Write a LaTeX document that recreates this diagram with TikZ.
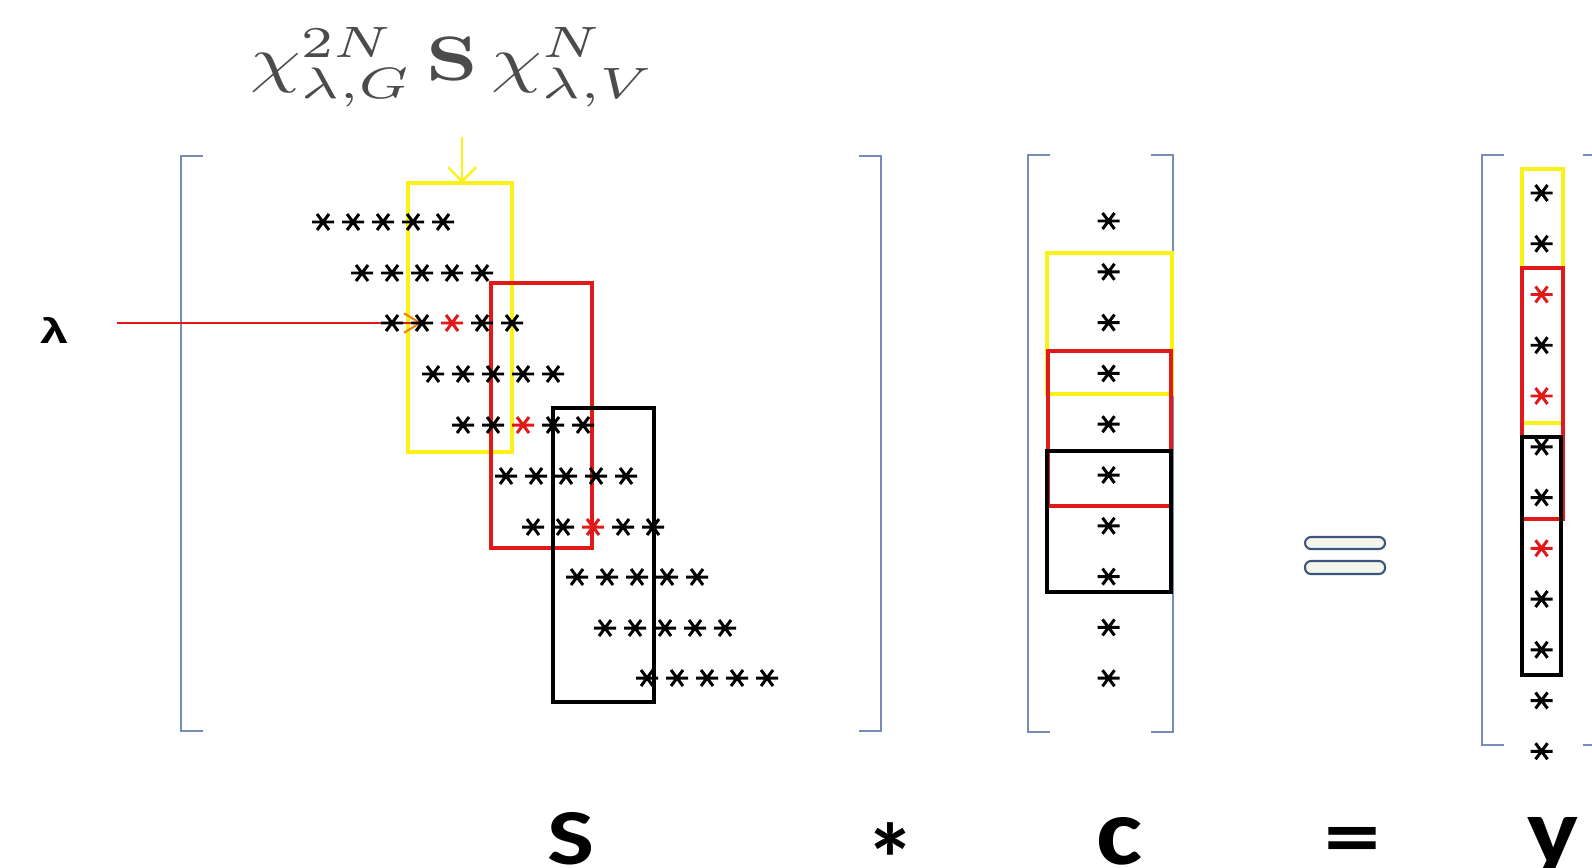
\documentclass[tikz,border=0pt]{standalone}
\usepackage[no-math]{fontspec}
\setmainfont{Carlito}
\newfontfamily\lamfont{Liberation Sans}
\usepackage{graphicx}
\usetikzlibrary{arrows.meta}
\definecolor{bcol}{RGB}{120,140,185}
\definecolor{myyel}{RGB}{250,242,20}
\definecolor{myred}{RGB}{225,25,25}
\definecolor{myorange}{RGB}{235,130,20}
\definecolor{eqline}{RGB}{60,85,125}
\definecolor{eqfill}{RGB}{245,246,235}
\definecolor{ttl}{RGB}{75,75,75}
\tikzset{
  astk/.pic={\draw[line width=0.85pt] (-11,0)--(11,0) (-6,-8)--(6,8) (-6,8)--(6,-8);
             \fill (0,0) circle (2.2);},
  brk/.style={draw=bcol, line width=0.6pt},
  ybx/.style={draw=myyel, line width=1.2pt},
  rbx/.style={draw=myred, line width=1.2pt},
  kbx/.style={draw=black, line width=1.2pt},
  eqbar/.style={draw=eqline, line width=0.6pt, fill=eqfill, rounded corners=0.06cm},
  lbl/.style={inner sep=0pt, font=\bfseries},
}
\begin{document}
\begin{tikzpicture}[x=0.01cm, y=-0.01cm]
\useasboundingbox[fill=white] (0,0) rectangle (1592,867);

% title
\node[anchor=north, inner sep=0pt, text=ttl] (title) at (453,27)
  {\resizebox*{4.05cm}{0.79cm}{$\chi^{2N}_{\lambda,G}\,\mathbf{S}\,\chi^{N}_{\lambda,V}$}};

% lambda
\node[anchor=base, inner sep=0pt] (lam) at (55,343) {\lamfont\bfseries\resizebox{0.28cm}{0.26cm}{λ}};

% brackets
\draw[brk] (203,156) -- (181,156) -- (181,731) -- (203,731);
\draw[brk] (859,156) -- (881,156) -- (881,731) -- (859,731);
\draw[brk] (1050,155) -- (1028,155) -- (1028,732) -- (1050,732);
\draw[brk] (1151,155) -- (1173,155) -- (1173,732) -- (1151,732);
\draw[brk] (1504,155) -- (1482,155) -- (1482,745) -- (1504,745);
\draw[brk] (1583,155) -- (1592,155);
\draw[brk] (1583,745) -- (1592,745);

% boxes in S
\draw[ybx] (408,183) rectangle (512,452);
\draw[rbx] (491,283) rectangle (592,548);
\draw[kbx] (553,408) rectangle (654,702);

% boxes in c
\draw[ybx] (1047,253) rectangle (1172,394);
\draw[rbx] (1048,351) rectangle (1171,506);
\draw[kbx] (1047,451) rectangle (1171,592);

% boxes in y
\draw[ybx] (1522,169) rectangle (1563,423);
\draw[rbx] (1522,268) rectangle (1563,519);
\draw[kbx] (1522,437) rectangle (1561,675);

% arrows
\coordinate (ya) at (462,137);
\coordinate (yb) at (462,183);
\draw[myyel, line width=0.7pt, -{Straight Barb[length=4pt,width=8pt]}] (ya) -- (yb);
\coordinate (ra) at (117,323);
\coordinate (rb) at (422,323);
\draw[myred, line width=0.6pt, -{Straight Barb[length=4.5pt,width=5.5pt,color=myorange]}] (ra) -- (rb);

% stars in S
\foreach \yy/\xx/\rc in {222/323/9, 273/362/9, 323/392/2, 374/433/9, 425/463/2,
                         476/506/9, 527/533/2, 577/577/9, 628/605/9, 678/647/9}{
  \foreach \k in {0,...,4}{
    \ifnum\k=\rc\relax\def\cc{myred}\else\def\cc{black}\fi
    \pic[\cc] at (\xx+30*\k,\yy) {astk};
  }
}

% stars in c
\foreach \i in {0,...,9}{
  \pic[black] at (1108.5,221+50.8*\i) {astk};
}

% stars in y
\foreach \i in {0,...,11}{
  \ifnum\i=2\relax\def\cc{myred}\else\ifnum\i=4\relax\def\cc{myred}\else\ifnum\i=7\relax\def\cc{myred}\else\def\cc{black}\fi\fi\fi
  \pic[\cc] at (1541.5,193+50.75*\i) {astk};
}

% equals sign (shape)
\draw[eqbar] (1305,537) rectangle (1385,549);
\draw[eqbar] (1305,561) rectangle (1385,574);

% bottom labels
\node[lbl, anchor=base] (lS) at (571,864) {\resizebox{0.47cm}{0.52cm}{S}};
\node[lbl, anchor=north] (lst) at (890,822) {\resizebox{0.5cm}{!}{*}};
\node[lbl, anchor=north] (leq) at (1352,827) {\resizebox{0.56cm}{0.38cm}{=}};
\node[lbl, anchor=base] (lc) at (1119,864) {\resizebox{0.46cm}{0.47cm}{c}};
\node[lbl, anchor=base] (ly) at (1553,864) {\resizebox{0.51cm}{0.47cm}{y}};
\end{tikzpicture}
\end{document}
